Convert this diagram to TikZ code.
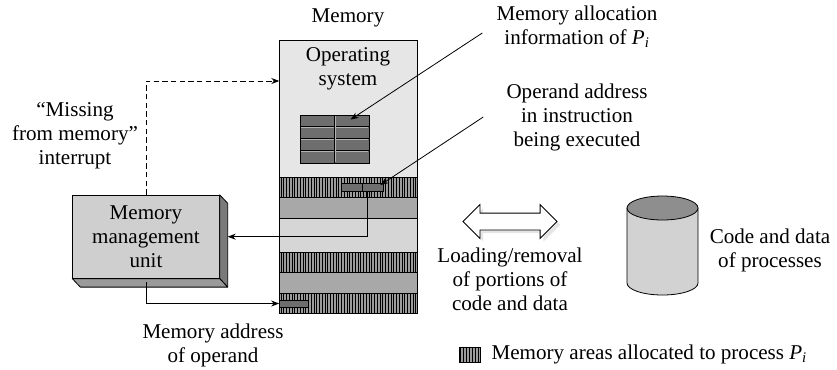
\documentclass[tikz,border=0pt]{standalone}
\usepackage{fontspec}
\setmainfont{Liberation Serif}
\usetikzlibrary{arrows.meta, positioning, calc, shapes.arrows, shadows}

\definecolor{osgray}{HTML}{E6E6E6}
\definecolor{lightband}{HTML}{D6D6D6}
\definecolor{darkband}{HTML}{A8A8A8}
\definecolor{hatchgray}{HTML}{9C9C9C}
\definecolor{cellgray}{HTML}{6E6E6E}
\definecolor{mmufront}{HTML}{CFCFCF}
\definecolor{mmuside}{HTML}{7A7A7A}
\definecolor{mmubottom}{HTML}{9A9A9A}
\definecolor{cylbody}{HTML}{D2D2D2}
\definecolor{cyltop}{HTML}{8E8E8E}

\newlength\pxl
\setlength\pxl{0.75pt}

\begin{document}
\begin{tikzpicture}[
    x=0.75pt, y=-0.75pt, % pixel grid, y downwards
    every node/.style={font=\fontsize{15.8}{18}\selectfont, align=center, inner sep=0pt},
    edge/.style={black, line width=0.6pt}, % connector lines
    band/.style={draw=black, line width=0.5pt}, % memory bands
    stripe/.style={black, line width=0.45pt}, % hatching of P_i areas
    ptr/.style={edge, -{Stealth[length=6pt, width=4.5pt]}},
    intr/.style={ptr, dashed, dash pattern=on 4pt off 2.5pt},
    cell/.style={draw=black, fill=cellgray, line width=0.6pt},
    face/.style={draw=black, line width=0.6pt, line join=round}
]
    \useasboundingbox (0,0) rectangle (837,369);

    % 1. memory column with its bands
    \fill[osgray] (279.3,40) rectangle (417.5,177.5);
    \fill[lightband] (279.3,218) rectangle (417.5,252.5);
    \foreach \ya/\yb in {197.5/218, 272/293.5} {
        \filldraw[band, fill=darkband] (279.3,\ya) rectangle (417.5,\yb);
    }
    \foreach \ya/\yb in {177.5/197.5, 252.5/272, 293.5/313} {
        \filldraw[band, fill=hatchgray] (279.3,\ya) rectangle (417.5,\yb);
        \foreach \k in {0,...,49} {
            \draw[stripe] ({281+2.75*\k},\ya) -- ({281+2.75*\k},\yb);
        }
    }
    \node[draw, line width=0.6pt, minimum width=138.2\pxl, minimum height=273\pxl] (mem) at (348.4,176.5) {};
    \node (memlbl) at (348,18) {Memory};
    \node (oslbl) at (348,68.5) {Operating\\system};

    % 2. allocation table and small boxes
    \node[cell, minimum width=69\pxl, minimum height=48\pxl] (alloc) at (334.5,139) {};
    \foreach \r in {1,2,3} {
        \draw[edge] ($(alloc.north west)+(0,12*\r)$) -- ++(69,0);
        \draw[gray!60, line width=0.35pt] ($(alloc.north west)+(1,12*\r+1)$) -- ++(67,0);
    }
    \draw[edge] (alloc.north) -- (alloc.south);
    \draw[gray!60, line width=0.35pt] ($(alloc.north)+(1,1)$) -- ($(alloc.south)+(1,-1)$);

    \node[cell, minimum width=42.5\pxl, minimum height=8\pxl] (opnd) at (362.2,187) {};
    \draw[edge] (opnd.north) -- (opnd.south);
    \node[cell, minimum width=28.5\pxl, minimum height=7\pxl] (maddr) at (293.8,303.5) {};

    % 3. memory management unit (3D box)
    \node[face, fill=mmufront, minimum width=146.6\pxl, minimum height=83\pxl] (mmu) at (146,236.7) {Memory\\management\\unit};
    \filldraw[face, fill=mmuside] (mmu.north east) -- ++(8,8.5) -- ($(mmu.south east)+(8,8.5)$) -- (mmu.south east) -- cycle;
    \filldraw[face, fill=mmubottom] (mmu.south west) -- ++(8,8.5) -- ($(mmu.south east)+(8,8.5)$) -- (mmu.south east) -- cycle;

    % 4. connectors
    \coordinate (osin) at (279.3,81);
    \draw[intr] (mmu.north) |- (osin);
    \draw[ptr] ($(opnd.south)+(4.8,0)$) |- ($(mmu.east)+(8,0)$);
    \draw[ptr] ($(mmu.south)+(0,3.5)$) |- (maddr.west);

    % 5. labels
    \node (intrlbl) at (75,136) {``Missing\\from memory''\\interrupt};
    \node (maddrlbl) at (213,345) {Memory address\\of operand};
    \node (allocinfo) at (577,27) {Memory allocation\\information of \textit{P}\textsubscript{\textit{i}}};
    \node (opinfo) at (577,117) {Operand address\\in instruction\\being executed};
    \draw[ptr] ($(allocinfo.west)+(-14,6)$) -- ($(alloc.north)+(16,5)$);
    \draw[ptr] ($(opinfo.west)+(-23,0)$) -- ($(opnd.east)+(-3.5,-2)$);

    % 6. loading/removal arrow
    \node[double arrow, draw=black, fill=white, line width=0.6pt, inner xsep=0pt, inner ysep=8\pxl,
          minimum height=94\pxl, double arrow head extend=8.5\pxl,
          drop shadow={shadow xshift=2.5pt, shadow yshift=-2.5pt, fill=gray!40}] (xfer) at (510,221.5) {};
    \node (loadlbl) at (510,279) {Loading/removal\\of portions of\\code and data};

    % 7. disk with code and data
    \filldraw[face, fill=cylbody] (627,208) -- (627,283) arc[start angle=180, end angle=0, x radius=35.5, y radius=12] -- (698,208) -- cycle;
    \filldraw[face, fill=cyltop] (662.5,208) ellipse[x radius=35.5, y radius=12];
    \node (codelbl) at (770,250) {Code and data\\of processes};

    % 8. legend
    \node[draw, line width=0.5pt, fill=hatchgray, minimum width=21\pxl, minimum height=15\pxl] (legbox) at (469.5,354.5) {};
    \foreach \k in {0,...,6} {
        \draw[stripe] ($(legbox.north west)+(1.5+3*\k,0)$) -- ++(0,15);
    }
    \node[right=11\pxl of legbox] (legtxt) {Memory areas allocated to process \textit{P}\textsubscript{\textit{i}}};
\end{tikzpicture}
\end{document}
